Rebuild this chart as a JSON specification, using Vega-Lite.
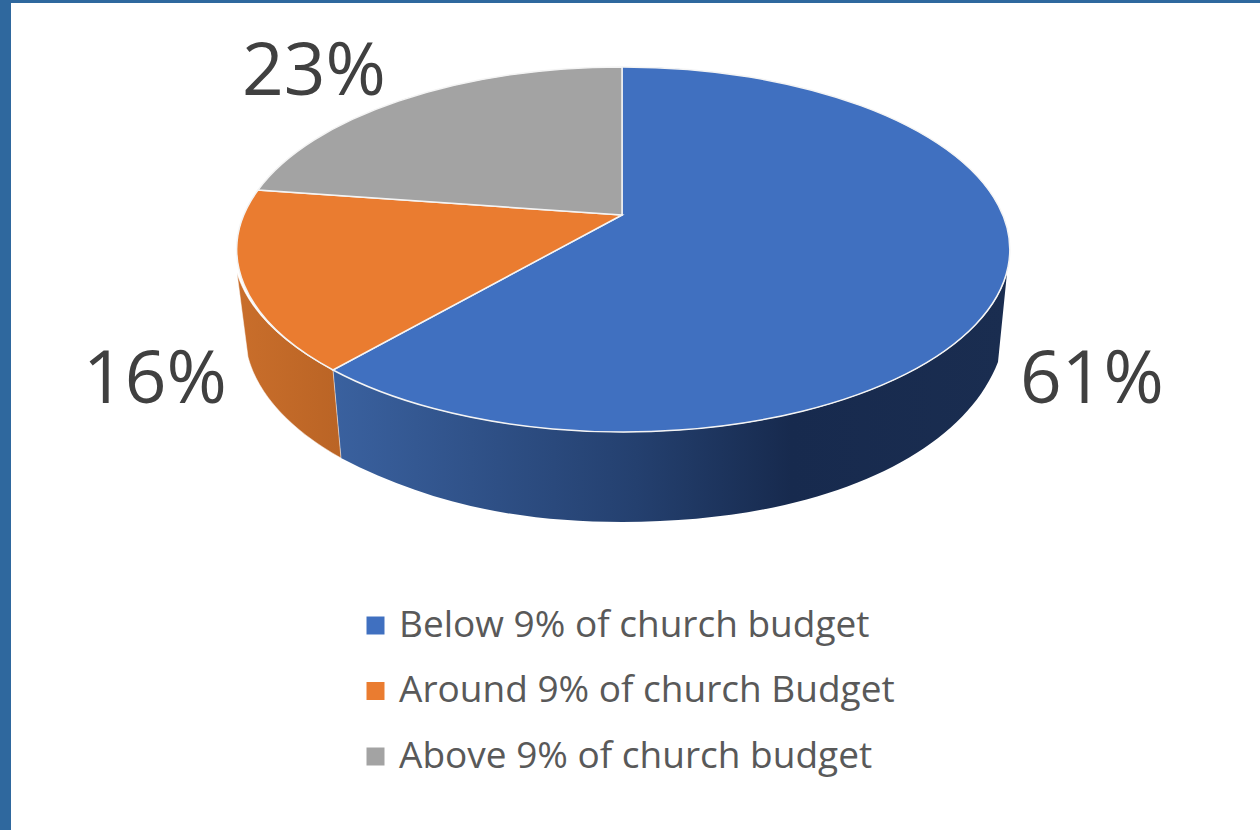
{
  "$schema": "https://vega.github.io/schema/vega-lite/v6.json",
  "width": 1249,
  "height": 827,
  "padding": {"left": 11, "top": 3, "right": 0, "bottom": 0},
  "autosize": {"type": "none"},
  "background": "#2f689e",
  "view": {"fill": "#ffffff", "stroke": null},
  "data": {
    "values": [
      {"segment": "Below 9% of church budget", "share": 0.61},
      {"segment": "Around 9% of church Budget", "share": 0.16},
      {"segment": "Above 9% of church budget", "share": 0.23}
    ]
  },
  "encoding": {
    "x": {"datum": 0, "type": "quantitative", "axis": null, "scale": {"domain": [-611, 638], "nice": false, "zero": false}},
    "y": {"datum": 0, "type": "quantitative", "axis": null, "scale": {"domain": [-615, 212], "nice": false, "zero": false}}
  },
  "layer": [
    {
      "transform": [{"filter": "datum.share == 0.61"}],
      "mark": {
        "type": "point", "filled": true, "size": 4, "opacity": 1,
        "shape": "M-289,155 L-281,243 C-190,290 -100,307 0,307 C200,307 340,240 376,147 L385,58 A386.5,182.5 0 0 1 -289,155 Z",
        "fill": {"gradient": "linear", "x1": 0, "y1": 0, "x2": 1, "y2": 0, "stops": [
          {"offset": 0, "color": "#3a619f"},
          {"offset": 0.45, "color": "#24406f"},
          {"offset": 0.68, "color": "#172a4e"},
          {"offset": 1, "color": "#1a2d50"}
        ]}
      }
    },
    {
      "transform": [{"filter": "datum.share == 0.16"}],
      "mark": {
        "type": "point", "filled": true, "size": 4, "opacity": 1,
        "shape": "M-289,155 L-281,243 A383,190 0 0 1 -374,142 L-385,58 A386.5,182.5 0 0 0 -289,155 Z",
        "stroke": "#ffffff", "strokeWidth": 0.5,
        "fill": {"gradient": "linear", "x1": 0, "y1": 0, "x2": 1, "y2": 0, "stops": [
          {"offset": 0, "color": "#c96e2b"},
          {"offset": 1, "color": "#ba6425"}
        ]}
      }
    },
    {
      "mark": {"type": "point", "filled": true, "size": 4, "opacity": 1, "stroke": "#f4f4f4", "strokeWidth": 1.5},
      "encoding": {
        "color": {
          "field": "segment", "type": "nominal",
          "scale": {
            "domain": ["Below 9% of church budget", "Around 9% of church Budget", "Above 9% of church budget"],
            "range": ["#4070c0", "#ea7c30", "#a3a3a3"]
          },
          "legend": {
            "title": null, "orient": "none", "legendX": 346, "legendY": 604,
            "symbolType": "square", "symbolSize": 324, "symbolStrokeWidth": 0,
            "labelFont": "Open Sans", "labelFontSize": 37, "labelColor": "#595959",
            "labelOffset": 5, "rowPadding": 27.5, "labelLimit": 700
          }
        },
        "shape": {
          "field": "share", "type": "nominal", "legend": null,
          "scale": {
            "domain": [0.61, 0.16, 0.23],
            "range": [
              "M0,0 L0,-148 A386.5,182.5 0 1 1 -289,155 Z",
              "M0,0 L-289,155 A386.5,182.5 0 0 1 -364,-25 Z",
              "M0,0 L-364,-25 A386.5,182.5 0 0 1 0,-148 Z"
            ]
          }
        }
      }
    },
    {
      "transform": [{"filter": "datum.share == 0.61"}],
      "mark": {"type": "text", "font": "Open Sans", "fontSize": 73, "color": "#404040", "dx": 470, "dy": 166},
      "encoding": {"text": {"field": "share", "type": "quantitative", "format": ".0%"}}
    },
    {
      "transform": [{"filter": "datum.share == 0.16"}],
      "mark": {"type": "text", "font": "Open Sans", "fontSize": 73, "color": "#404040", "dx": -467, "dy": 166},
      "encoding": {"text": {"field": "share", "type": "quantitative", "format": ".0%"}}
    },
    {
      "transform": [{"filter": "datum.share == 0.23"}],
      "mark": {"type": "text", "font": "Open Sans", "fontSize": 73, "color": "#404040", "dx": -308, "dy": -142},
      "encoding": {"text": {"field": "share", "type": "quantitative", "format": ".0%"}}
    }
  ]
}
